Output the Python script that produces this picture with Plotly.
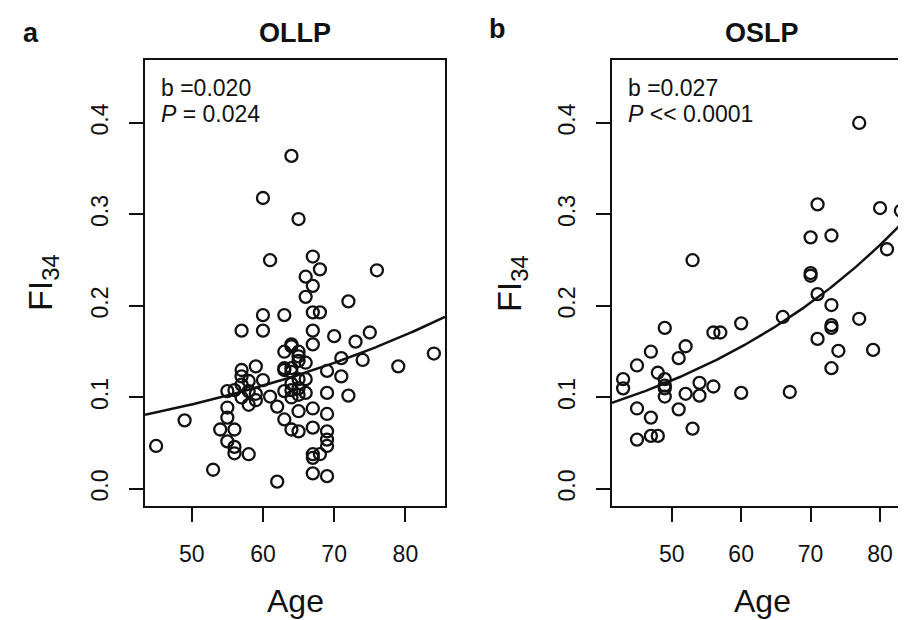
import numpy as np
import plotly.graph_objects as go

# ---------------- data ----------------
age_ollp = [45, 49, 53, 54, 55, 55, 55, 55, 56, 56, 56, 56, 57, 57, 57, 57, 57,
            58, 58, 58, 58, 59, 59, 59, 60, 60, 60, 60, 61, 61, 62, 62,
            63, 63, 63, 63, 63, 63, 64, 64, 64, 64, 64, 64, 64, 64, 64,
            65, 65, 65, 65, 65, 65, 65, 65, 65, 66, 66, 66, 66, 66,
            67, 67, 67, 67, 67, 67, 67, 67, 67, 67, 68, 68, 68,
            69, 69, 69, 69, 69, 69, 69, 70, 71, 71, 72, 72, 73, 74, 75, 76, 79, 84]
fi_ollp = [0.047, 0.075, 0.021, 0.065, 0.107, 0.089, 0.078, 0.052, 0.108, 0.065, 0.046, 0.039,
           0.173, 0.130, 0.123, 0.114, 0.100,
           0.107, 0.092, 0.118, 0.038, 0.134, 0.097, 0.104, 0.190, 0.173, 0.318, 0.119,
           0.250, 0.101, 0.090, 0.008,
           0.190, 0.150, 0.132, 0.130, 0.076, 0.107,
           0.364, 0.158, 0.156, 0.132, 0.128, 0.108, 0.065, 0.115, 0.100,
           0.295, 0.150, 0.140, 0.110, 0.103, 0.085, 0.063, 0.120, 0.145,
           0.232, 0.210, 0.138, 0.120, 0.105,
           0.254, 0.222, 0.193, 0.173, 0.158, 0.088, 0.067, 0.038, 0.034, 0.017,
           0.240, 0.193, 0.038,
           0.129, 0.105, 0.082, 0.063, 0.054, 0.047, 0.014,
           0.167, 0.143, 0.123, 0.205, 0.102, 0.161, 0.141, 0.171, 0.239, 0.134, 0.148]

age_oslp = [43, 43, 45, 45, 45, 47, 47, 47, 48, 48, 49, 49, 49, 49, 49, 51, 51, 52, 52,
            53, 53, 54, 54, 56, 56, 57, 60, 60, 66, 67, 70, 70, 70, 71, 71, 71,
            73, 73, 73, 73, 73, 74, 77, 77, 79, 80, 81, 83]
fi_oslp = [0.120, 0.110, 0.135, 0.088, 0.054, 0.150, 0.078, 0.058, 0.058, 0.127,
           0.176, 0.120, 0.113, 0.110, 0.101, 0.143, 0.087, 0.156, 0.104,
           0.250, 0.066, 0.116, 0.102, 0.171, 0.112, 0.171, 0.181, 0.105, 0.188, 0.106,
           0.275, 0.236, 0.233, 0.311, 0.213, 0.164,
           0.277, 0.201, 0.179, 0.176, 0.132, 0.151, 0.400, 0.186, 0.152, 0.307, 0.262, 0.304]

# log-linear fit coefficients: FI = exp(intercept + b * age)
fit_ollp = {"intercept": -3.382, "b": 0.020}
fit_oslp = {"intercept": -3.482, "b": 0.027}

titles = ["OLLP", "OSLP"]
panel_letters = ["a", "b"]
stat_b = ["b =0.020", "b =0.027"]
stat_p = ["<i>P</i> = 0.024", "<i>P</i> << 0.0001"]
x_ticks = [50, 60, 70, 80]
y_ticks = [0.0, 0.1, 0.2, 0.3, 0.4]

# ---------------- figure ----------------
W, H = 906, 620
FONT = "Liberation Sans, Arial, Helvetica, sans-serif"

x_ranges = [[43.44, 85.56], [41.4, 84.6]]
y_range = [-0.0186, 0.4688]
x_domains = [[137 / W, 437 / W], [604 / W, 904 / W]]
y_domain = [(H - 498) / H, (H - 52) / H]

fig = go.Figure()

datasets = [(age_ollp, fi_ollp, fit_ollp), (age_oslp, fi_oslp, fit_oslp)]
for i, (ages, fis, fit) in enumerate(datasets):
    xa = "x" if i == 0 else "x2"
    ya = "y" if i == 0 else "y2"
    fig.add_trace(go.Scatter(
        x=ages, y=fis, mode="markers", xaxis=xa, yaxis=ya,
        marker=dict(symbol="circle-open", size=12, color="#111111",
                    line=dict(width=2.3, color="#111111")),
        showlegend=False, hoverinfo="x+y"))
    xs = np.linspace(x_ranges[i][0], x_ranges[i][1], 200)
    ys = np.exp(fit["intercept"] + fit["b"] * xs)
    fig.add_trace(go.Scatter(
        x=xs, y=ys, mode="lines", xaxis=xa, yaxis=ya,
        line=dict(color="#111111", width=2.5),
        showlegend=False, hoverinfo="skip"))

axis_common = dict(showgrid=False, zeroline=False, showline=True, mirror=True,
                   linecolor="#111111", linewidth=2.2, ticks="outside",
                   ticklen=14, tickwidth=2, tickcolor="#111111",
                   tickfont=dict(family=FONT, size=23, color="#111111"))

for i in range(2):
    sfx = "" if i == 0 else "2"
    fig.layout["xaxis" + sfx] = dict(
        domain=x_domains[i], range=x_ranges[i], anchor="y" + sfx,
        tickvals=x_ticks, ticktext=[str(v) for v in x_ticks],
        ticklabelstandoff=12, **axis_common)
    fig.layout["yaxis" + sfx] = dict(
        domain=y_domain, range=y_range, anchor="x" + sfx,
        tickvals=y_ticks, ticktext=[f"{v:.1f}" for v in y_ticks],
        tickangle=-90, ticklabelstandoff=12, **axis_common)

annotations = []
for i in range(2):
    x0, x1 = x_domains[i]
    xc = (x0 + x1) / 2
    # panel title
    annotations.append(dict(x=xc, y=1 - 25 / H, xref="paper", yref="paper",
                            text="<b>" + titles[i] + "</b>", showarrow=False,
                            xanchor="center", yanchor="middle",
                            font=dict(family=FONT, size=27, color="#111111")))
    # panel letter
    lx = [23 / W, 489 / W][i]
    ly = [1 - 25 / H, 1 - 21 / H][i]
    annotations.append(dict(x=lx, y=ly, xref="paper", yref="paper",
                            text="<b>" + panel_letters[i] + "</b>", showarrow=False,
                            xanchor="center", yanchor="middle",
                            font=dict(family=FONT, size=27, color="#111111")))
    # stats text
    annotations.append(dict(x=x0 + 14 / W, y=1 - 80 / H, xref="paper", yref="paper",
                            text=stat_b[i], showarrow=False,
                            xanchor="left", yanchor="middle",
                            font=dict(family=FONT, size=23, color="#111111")))
    annotations.append(dict(x=x0 + 14 / W, y=1 - 106 / H, xref="paper", yref="paper",
                            text=stat_p[i], showarrow=False,
                            xanchor="left", yanchor="middle",
                            font=dict(family=FONT, size=23, color="#111111")))
    # x axis title
    annotations.append(dict(x=xc, y=1 - 593 / H, xref="paper", yref="paper",
                            text="Age", showarrow=False,
                            xanchor="center", yanchor="middle",
                            font=dict(family=FONT, size=32, color="#111111")))
    # y axis title
    yx = [34 / W, 503 / W][i]
    annotations.append(dict(x=yx, y=1 - 275 / H, xref="paper", yref="paper",
                            text="FI<sub>34</sub>", showarrow=False, textangle=-90,
                            xanchor="center", yanchor="middle",
                            font=dict(family=FONT, size=34, color="#111111")))

fig.update_layout(
    width=W, height=H, margin=dict(l=0, r=0, t=0, b=0),
    paper_bgcolor="white", plot_bgcolor="white",
    annotations=annotations, showlegend=False,
    font=dict(family=FONT, color="#111111"))

fig.write_html("out.html")
